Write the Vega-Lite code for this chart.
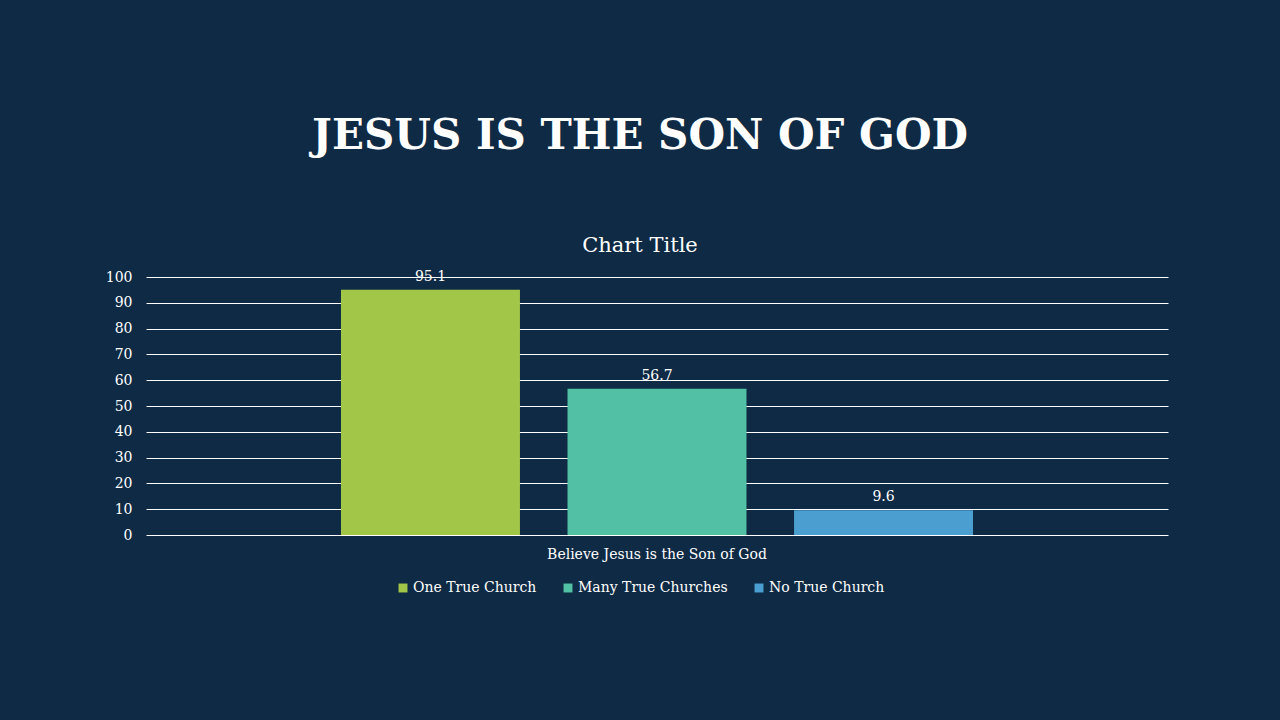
{
  "$schema": "https://vega.github.io/schema/vega-lite/v6.json",
  "autosize": {"type": "none"},
  "width": 1022,
  "height": 258,
  "padding": {"left": 146, "top": 277, "right": 112, "bottom": 185},
  "background": "#0f2a44",
  "title": {
    "text": "JESUS IS THE SON OF GOD",
    "subtitle": "Chart Title",
    "anchor": "middle",
    "dx": -17,
    "offset": 13,
    "font": "DejaVu Serif",
    "fontSize": 42,
    "fontWeight": "bold",
    "color": "#ffffff",
    "subtitleFont": "DejaVu Serif",
    "subtitleFontSize": 21,
    "subtitleColor": "#ffffff",
    "subtitlePadding": 77
  },
  "data": {
    "values": [
      {"category": "Believe Jesus is the Son of God", "series": "One True Church", "value": 95.1},
      {"category": "Believe Jesus is the Son of God", "series": "Many True Churches", "value": 56.7},
      {"category": "Believe Jesus is the Son of God", "series": "No True Church", "value": 9.6}
    ]
  },
  "encoding": {
    "x": {
      "field": "category",
      "type": "nominal",
      "scale": {"paddingInner": 0, "paddingOuter": 0.3085},
      "axis": {
        "title": null,
        "labelAngle": 0,
        "labelLimit": 0,
        "labelFont": "DejaVu Serif",
        "labelFontSize": 14,
        "labelColor": "#ffffff",
        "labelPadding": 12,
        "ticks": false,
        "domain": false
      }
    },
    "xOffset": {
      "field": "series",
      "type": "nominal",
      "sort": ["One True Church", "Many True Churches", "No True Church"],
      "scale": {"paddingInner": 0.21, "paddingOuter": 0}
    },
    "y": {
      "field": "value",
      "type": "quantitative",
      "scale": {"domain": [0, 100]},
      "axis": {
        "title": null,
        "values": [0, 10, 20, 30, 40, 50, 60, 70, 80, 90, 100],
        "labelFont": "DejaVu Serif",
        "labelFontSize": 14,
        "labelColor": "#ffffff",
        "labelPadding": 14,
        "ticks": false,
        "domain": false,
        "grid": true,
        "gridColor": "#ffffff",
        "gridWidth": 1,
        "gridOpacity": 1
      }
    }
  },
  "layer": [
    {
      "mark": {"type": "bar"},
      "encoding": {
        "color": {
          "field": "series",
          "type": "nominal",
          "sort": ["One True Church", "Many True Churches", "No True Church"],
          "scale": {
            "domain": ["One True Church", "Many True Churches", "No True Church"],
            "range": ["#a2c648", "#52c0a5", "#4a9fd0"]
          },
          "legend": {
            "title": null,
            "orient": "none",
            "direction": "horizontal",
            "legendX": 250,
            "legendY": 304,
            "symbolType": "square",
            "symbolSize": 80,
            "symbolStrokeWidth": 0,
            "labelFont": "DejaVu Serif",
            "labelFontSize": 14,
            "labelColor": "#ffffff",
            "labelOffset": 3,
            "columnPadding": 24
          }
        }
      }
    },
    {
      "mark": {"type": "text", "baseline": "bottom", "dy": -6, "font": "DejaVu Serif", "fontSize": 14, "color": "#ffffff"},
      "encoding": {
        "text": {"field": "value", "type": "quantitative", "format": ".1f"}
      }
    }
  ],
  "config": {
    "view": {"stroke": null}
  }
}
